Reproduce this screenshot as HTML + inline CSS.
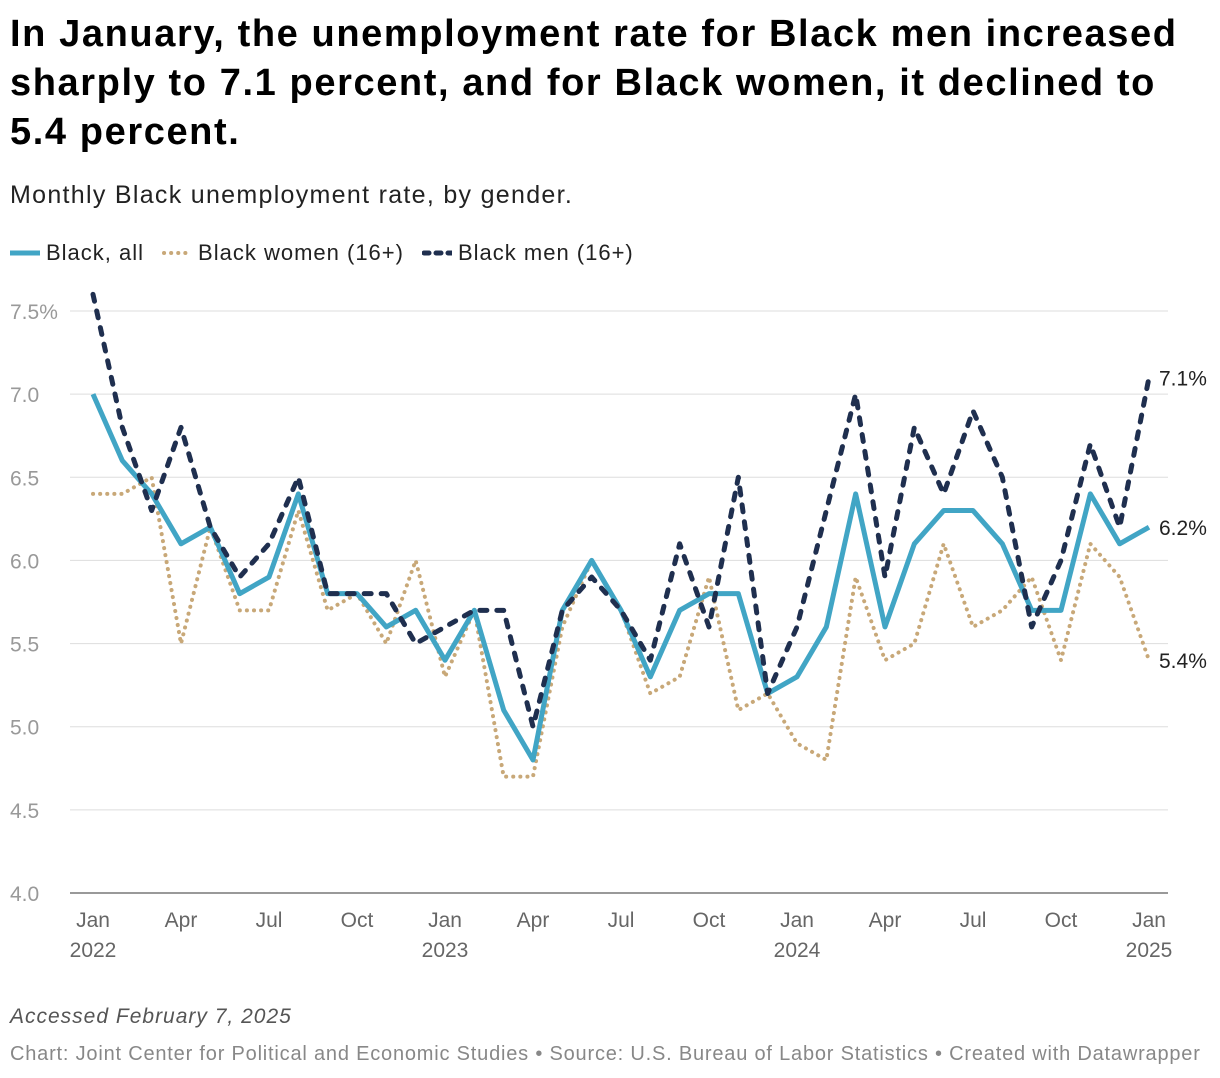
<!DOCTYPE html>
<html><head><meta charset="utf-8">
<style>
body{margin:0;background:#fff;font-family:"Liberation Sans",sans-serif;width:1220px;height:1078px;overflow:hidden;position:relative}
h1{position:absolute;left:10px;top:10px;margin:0;font-size:38px;line-height:49px;font-weight:bold;color:#000;width:1200px;letter-spacing:1.6px}
.sub{position:absolute;left:10px;top:181px;font-size:25px;color:#222;letter-spacing:1.3px}
.legend{position:absolute;left:10px;top:240px;font-size:22px;color:#222;display:flex;gap:0;letter-spacing:1px}
.legend span{display:inline-flex;align-items:center;margin-right:18px}
.note{position:absolute;left:10px;top:1005px;font-size:21px;font-style:italic;color:#555;letter-spacing:1px}
.foot{position:absolute;left:10px;top:1043px;font-size:20px;color:#888;letter-spacing:0.8px}
svg{position:absolute;left:0;top:0}
</style></head><body>
<h1>In January, the unemployment rate for Black men increased sharply to 7.1 percent, and for Black women, it declined to 5.4 percent.</h1>
<div class="sub">Monthly Black unemployment rate, by gender.</div>
<div class="legend">
<span><svg width="30" height="6" style="position:static;margin-right:6px"><line x1="0" y1="3" x2="30" y2="3" stroke="#41a5c5" stroke-width="5"/></svg>Black, all</span>
<span><svg width="30" height="6" style="position:static;margin-right:6px"><line x1="2" y1="3" x2="30" y2="3" stroke="#c8a878" stroke-width="4" stroke-dasharray="0.1 7" stroke-linecap="round"/></svg>Black women (16+)</span>
<span><svg width="30" height="6" style="position:static;margin-right:6px"><line x1="2" y1="3" x2="30" y2="3" stroke="#1f2f4f" stroke-width="5" stroke-dasharray="5 7" stroke-linecap="round"/></svg>Black men (16+)</span>
</div>
<svg id="chart" width="1220" height="1078"></svg>
<div class="note">Accessed February 7, 2025</div>
<div class="foot">Chart: Joint Center for Political and Economic Studies • Source: U.S. Bureau of Labor Statistics • Created with Datawrapper</div>
<script>
const allSeries=[7.0,6.6,6.4,6.1,6.2,5.8,5.9,6.4,5.8,5.8,5.6,5.7,5.4,5.7,5.1,4.8,5.7,6.0,5.7,5.3,5.7,5.8,5.8,5.2,5.3,5.6,6.4,5.6,6.1,6.3,6.3,6.1,5.7,5.7,6.4,6.1,6.2];
const womenSeries=[6.4,6.4,6.5,5.5,6.2,5.7,5.7,6.3,5.7,5.8,5.5,6.0,5.3,5.7,4.7,4.7,5.6,6.0,5.7,5.2,5.3,5.9,5.1,5.2,4.9,4.8,5.9,5.4,5.5,6.1,5.6,5.7,5.9,5.4,6.1,5.9,5.4];
const menSeries=[7.6,6.8,6.3,6.8,6.2,5.9,6.1,6.5,5.8,5.8,5.8,5.5,5.6,5.7,5.7,5.0,5.7,5.9,5.7,5.4,6.1,5.6,6.5,5.2,5.6,6.3,7.0,5.9,6.8,6.4,6.9,6.5,5.6,6.0,6.7,6.2,7.1];
const yTicks=[4.0,4.5,5.0,5.5,6.0,6.5,7.0,7.5];
const xTickMonths=[0,3,6,9,12,15,18,21,24,27,30,33,36];
const xTickLabels=["Jan","Apr","Jul","Oct","Jan","Apr","Jul","Oct","Jan","Apr","Jul","Oct","Jan"];
const yearLabels={0:"2022",12:"2023",24:"2024",36:"2025"};
const NS="http://www.w3.org/2000/svg";
const svg=document.getElementById('chart');
const x=m=>93+m*(1149-93)/36;
const y=v=>893-(v-4)*(893-311)/3.5;
function mk(t,a){const e=document.createElementNS(NS,t);for(const k in a)e.setAttribute(k,a[k]);svg.appendChild(e);return e;}
yTicks.forEach((t,i)=>{
  const l=mk('line',{x1:70,x2:1168,y1:y(t),y2:y(t),stroke:i==0?'#333':'#ddd','stroke-width':1});
  
  
  const tx=mk('text',{x:10,y:y(t)+8,'font-size':21,fill:'#999','font-family':'Liberation Sans'});
  tx.textContent=t.toFixed(1)+(i==yTicks.length-1?'%':'');
  
  
});
xTickMonths.forEach((m,i)=>{
  const tx=mk('text',{x:x(m),y:927,'font-size':21,fill:'#666','text-anchor':'middle','font-family':'Liberation Sans'});
  tx.textContent=xTickLabels[i];
  
  
  if(yearLabels[m]){const ty=mk('text',{x:x(m),y:957,'font-size':21,fill:'#666','text-anchor':'middle','font-family':'Liberation Sans'});
  ty.textContent=yearLabels[m];
  
  }
});
function line(data,style,name){
  const p=mk('polyline',Object.assign({points:data.map((v,i)=>x(i)+','+y(v)).join(' '),fill:'none','stroke-linejoin':'round'},style));
  
  
}
line(womenSeries,{stroke:'#c8a878','stroke-width':4,'stroke-dasharray':'0.1 7','stroke-linecap':'round'},'women-line');
line(allSeries,{stroke:'#41a5c5','stroke-width':5},'all-line');
line(menSeries,{stroke:'#1f2f4f','stroke-width':5,'stroke-dasharray':'7 10','stroke-linecap':'round'},'men-line');
[[menSeries,'men-end-label'],[allSeries,'all-end-label'],[womenSeries,'women-end-label']].forEach(([d,n])=>{
  const v=d[d.length-1];
  const tx=mk('text',{x:1159,y:y(v)+8,'font-size':21,fill:'#222','font-family':'Liberation Sans'});
  tx.textContent=v.toFixed(1)+'%';
  
  
});
</script>
</body></html>
